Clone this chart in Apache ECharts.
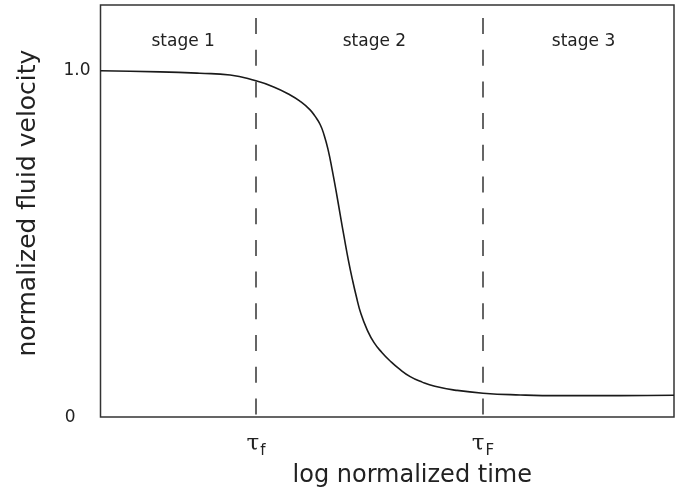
<!DOCTYPE html>
<html>
<head>
<meta charset="utf-8">
<script src="https://cdn.jsdelivr.net/npm/echarts@6/dist/echarts.min.js"></script>
<style>
  html, body { margin: 0; padding: 0; background: #fff; }
  #chart { width: 684px; height: 493px; }
</style>
</head>
<body>
<div id="chart"></div>
<script>
// Log normalized time (arbitrary units across the plotted span) and the fluid velocity curve
const timeLog = [0, 1.04, 1.73, 2.26, 2.71, 3.01, 3.30, 3.48, 3.65, 3.74, 3.83, 3.90, 3.97,
                 4.04, 4.11, 4.18, 4.25, 4.32, 4.39, 4.46, 4.54, 4.65, 4.77, 4.91, 5.05,
                 5.21, 5.40, 5.61, 5.83, 6.18, 6.67, 7.32, 8.01, 9.06, 10];
const velocity = [1.0, 0.997, 0.993, 0.988, 0.971, 0.954, 0.931, 0.912, 0.888, 0.869, 0.845, 0.814, 0.771,
                  0.714, 0.651, 0.584, 0.518, 0.455, 0.399, 0.349, 0.299, 0.252, 0.215, 0.186, 0.162,
                  0.139, 0.117, 0.101, 0.089, 0.078, 0.069, 0.064, 0.062, 0.062, 0.063];

// Characteristic times separating the stages
const tauf = 2.71;
const tauF = 6.67;
const tauTicks = [tauf, tauF];
const tauSubscripts = ['f', 'F'];

// Stage bounds and names
const stageBounds = [0, tauf, tauF, 10];
const stageNames = ['stage 1', 'stage 2', 'stage 3'];

// Y tick labels
const yTicks = [0, 1];
const yTickLabels = ['0', '1.0'];

const SANS = 'DejaVu Sans';
const INK = '#222';

const chart = echarts.init(document.getElementById('chart'), null, { renderer: 'canvas' });

chart.setOption({
  animation: false,
  backgroundColor: '#fff',
  grid: {
    left: 100.5, right: 10, top: 5, bottom: 75.5,
    show: true, borderColor: '#333', borderWidth: 1.5, backgroundColor: 'transparent'
  },
  xAxis: {
    type: 'value',
    min: stageBounds[0],
    max: stageBounds[stageBounds.length - 1],
    splitLine: { show: false },
    axisLine: { show: false },
    axisTick: { show: false },
    axisLabel: {
      customValues: tauTicks,
      margin: 15,
      formatter: function (v) {
        const i = tauTicks.indexOf(v);
        return i < 0 ? '' : '{t|τ}{s|' + tauSubscripts[i] + '}';
      },
      rich: {
        t: { fontFamily: 'DejaVu Serif', fontSize: 23, color: INK, verticalAlign: 'bottom' },
        s: { fontFamily: SANS, fontSize: 15, color: INK, verticalAlign: 'bottom', padding: [0, 0, -4, 1] }
      }
    },
    name: 'log normalized time',
    nameLocation: 'middle',
    nameGap: 34,
    nameTextStyle: { fontFamily: SANS, fontSize: 24, color: INK, padding: [0, 0, 0, 50] }
  },
  yAxis: {
    type: 'value',
    min: 0,
    max: 1.19,
    interval: 1,
    splitLine: { show: false },
    axisLine: { show: false },
    axisTick: { show: false },
    axisLabel: {
      margin: 10,
      fontFamily: SANS,
      fontSize: 17,
      color: INK,
      formatter: function (v) {
        const i = yTicks.indexOf(v);
        if (i < 0) return '';
        return v === 0 ? '{z|' + yTickLabels[i] + '}' : yTickLabels[i];
      },
      rich: {
        z: { fontFamily: SANS, fontSize: 17, color: INK, padding: [0, 15, 0, 0] }
      }
    },
    name: 'normalized fluid velocity',
    nameLocation: 'middle',
    nameGap: 60,
    nameTextStyle: { fontFamily: SANS, fontSize: 25, color: INK, padding: [0, 0, 0, 16] }
  },
  series: [{
    type: 'line',
    data: timeLog.map((t, i) => [t, velocity[i]]),
    smooth: 0.5,
    symbol: 'none',
    lineStyle: { color: '#1a1a1a', width: 1.6 },
    silent: true,
    markLine: {
      silent: true,
      symbol: 'none',
      label: { show: false },
      lineStyle: { color: '#333', width: 1.5, type: [16, 15.7], dashOffset: 29 },
      emphasis: { disabled: true },
      data: tauTicks.map(v => ({ xAxis: v }))
    },
    markArea: {
      silent: true,
      itemStyle: { color: 'rgba(0,0,0,0)' },
      label: {
        position: 'insideTop',
        distance: 28,
        offset: [5, 0],
        fontFamily: SANS,
        fontSize: 17,
        color: INK
      },
      emphasis: { disabled: true },
      data: stageNames.map((n, i) => [
        { name: n, xAxis: stageBounds[i] },
        { xAxis: stageBounds[i + 1] }
      ])
    }
  }]
});
</script>
</body>
</html>
